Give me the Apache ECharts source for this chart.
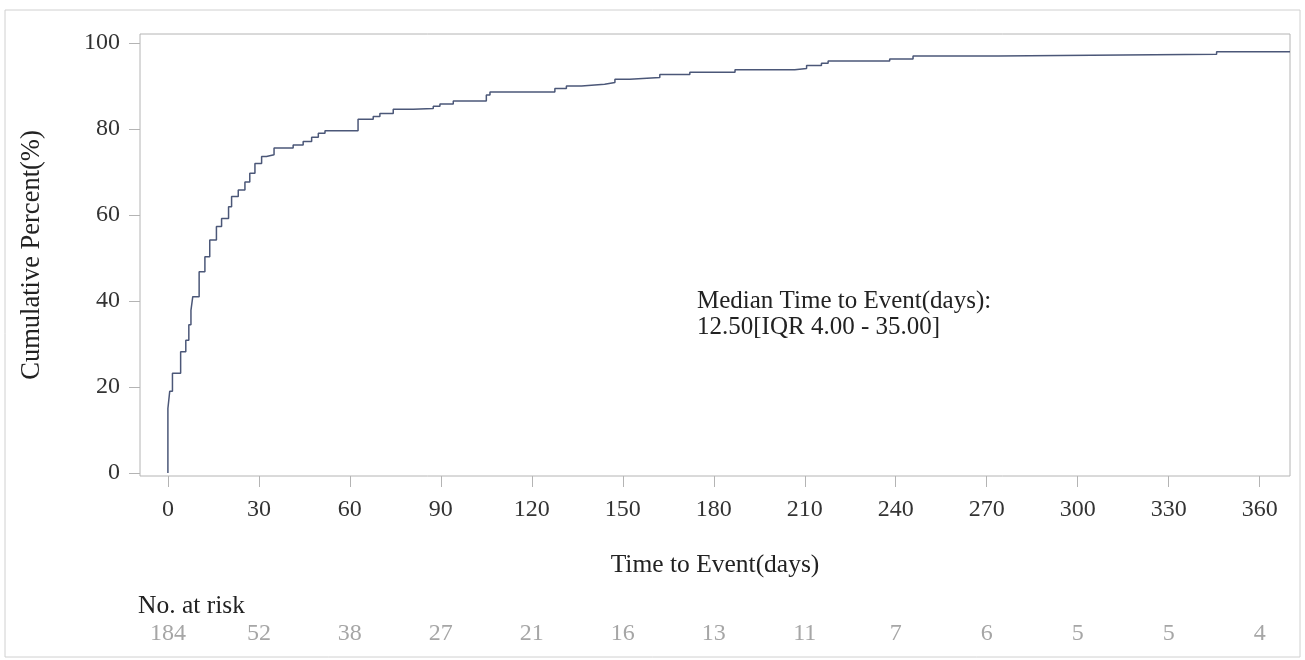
<!DOCTYPE html>
<html>
<head>
<meta charset="utf-8">
<script src="https://cdn.jsdelivr.net/npm/echarts@6/dist/echarts.min.js"></script>
<style>
html,body{margin:0;padding:0;background:#fff;}
#chart{width:1305px;height:660px;}
</style>
</head>
<body>
<div id="chart"></div>
<script>
// Tick labels
const xTicks = [0, 30, 60, 90, 120, 150, 180, 210, 240, 270, 300, 330, 360];
const yTicks = [0, 20, 40, 60, 80, 100];
// Number at risk at each x tick
const atRisk = [184, 52, 38, 27, 21, 16, 13, 11, 7, 6, 5, 5, 4];
// Cumulative incidence step function: event times (days) and cumulative percent
const times = [0, 0, 0.6, 1.5, 4.2, 5.9, 6.9, 7.6, 8.2, 10.3, 12.2, 13.8, 16, 17.7, 20, 21, 23.2, 25.4, 27, 28.7, 30.9, 32.5, 35, 41.3, 44.6, 47.4, 49.6, 51.8, 62.7, 67.7, 69.9, 74.3, 80.9, 87.5, 89.7, 94.1, 105, 106.2, 127.6, 131.4, 136.4, 144, 147.4, 152.3, 162.2, 172.1, 187, 206.7, 210.6, 215.5, 217.7, 238, 245.7, 273.8, 345.8, 370];
const percents = [0, 15, 19, 23.2, 28.2, 30.9, 34.5, 37.8, 41, 46.8, 50.3, 54.2, 57.3, 59.2, 61.9, 64.3, 65.8, 67.7, 69.7, 72, 73.6, 74, 75.6, 76.3, 77.1, 78.1, 79, 79.6, 82.3, 82.9, 83.6, 84.6, 84.8, 85.3, 85.8, 86.5, 87.9, 88.6, 89.4, 90, 90.4, 90.8, 91.6, 92, 92.7, 93.2, 93.8, 94.1, 94.8, 95.3, 95.8, 96.3, 97, 97.4, 98, 98];
const medianText = 'Median Time to Event(days):\n12.50[IQR 4.00 - 35.00]';

const FONT = '"Liberation Serif", "Times New Roman", serif';
const chart = echarts.init(document.getElementById('chart'), null, {renderer: 'canvas'});
const data = times.map((t, i) => [t, percents[i]]);

chart.setOption({
  animation: false,
  backgroundColor: '#fff',
  textStyle: {fontFamily: FONT},
  grid: {left: 140, top: 34, right: 15, bottom: 184, show: true, borderColor: '#b4b4b4', borderWidth: 1, containLabel: false},
  xAxis: [{
    type: 'value', min: -9.2, max: 370,
    axisLine: {show: false, onZero: false},
    splitLine: {show: false},
    axisTick: {show: true, length: 11, customValues: xTicks, lineStyle: {color: '#b4b4b4'}},
    axisLabel: {customValues: xTicks, margin: 22, fontSize: 24, color: '#333', fontFamily: FONT},
    name: 'Time to Event(days)', nameLocation: 'middle', nameGap: 76,
    nameTextStyle: {fontSize: 25.5, color: '#222', fontFamily: FONT}
  }, {
    type: 'value', min: -9.2, max: 370, position: 'bottom', offset: 146,
    axisLine: {show: false, onZero: false}, axisTick: {show: false}, splitLine: {show: false},
    axisLabel: {customValues: xTicks, margin: 0, fontSize: 24, color: '#a6a6a6', fontFamily: FONT,
      formatter: v => String(atRisk[xTicks.indexOf(v)])}
  }],
  yAxis: {
    type: 'value', min: -0.7, max: 102.1,
    axisLine: {show: false, onZero: false},
    splitLine: {show: false},
    axisTick: {show: true, length: 11, customValues: yTicks, lineStyle: {color: '#b4b4b4'}},
    axisLabel: {customValues: yTicks, margin: 20, fontSize: 24, color: '#333', fontFamily: FONT},
    name: 'Cumulative Percent(%)', nameLocation: 'middle', nameGap: 94, nameRotate: 90,
    nameTextStyle: {fontSize: 26.5, color: '#222', fontFamily: FONT}
  },
  series: [{
    type: 'line', step: 'end', xAxisIndex: 0, data: data, showSymbol: false, symbol: 'none',
    lineStyle: {color: '#4b5778', width: 1.5}, clip: true
  }],
  graphic: [
    {type: 'rect', shape: {x: 5, y: 10, width: 1295, height: 647}, style: {fill: 'none', stroke: '#d0d0d0', lineWidth: 1}, silent: true, z: -1},
    {type: 'text', left: 697, top: 288, style: {text: medianText, fontSize: 25, lineHeight: 26, fill: '#222', fontFamily: FONT}},
    {type: 'text', left: 138, top: 593, style: {text: 'No. at risk', fontSize: 25.5, fill: '#222', fontFamily: FONT}}
  ]
});
</script>
</body>
</html>
